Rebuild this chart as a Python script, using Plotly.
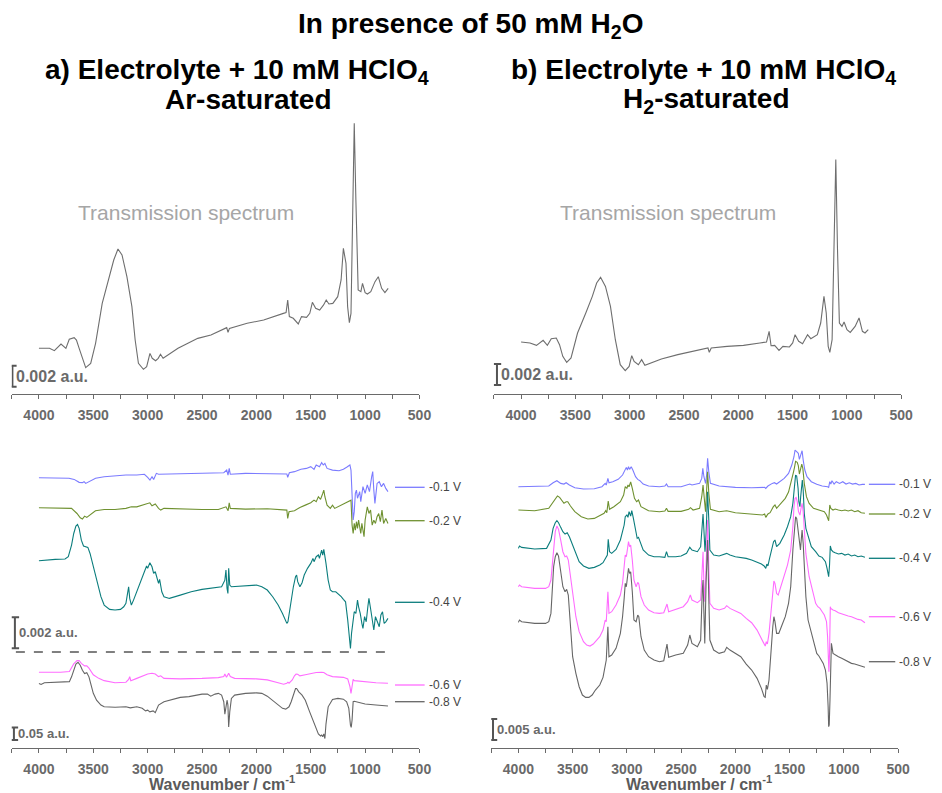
import plotly.graph_objects as go

# ---------------- data (wavenumber cm-1, absorbance) ----------------
# Transmission spectra (values in mAU = 1e-3 a.u.)
trans_ar = [(4000,4.35),(3903,4.35),(3858,4.13),(3797,4.76),(3752,4.35),(3721,5.21),(3676,5.37),(3655,5.14),
            (3630,4.35),(3585,2.92),(3570,2.51),(3524,2.92),(3479,4.83),(3418,8.63),(3358,10.86),(3312,12.76),
            (3273,13.81),(3236,13.24),(3191,11.17),(3145,8.32),(3115,5.14),(3085,2.92),(3039,2.35),(3009,2.60),
            (2979,3.87),(2958,3.40),(2927,3.17),(2903,3.40),(2882,3.78),(2858,3.40),(2721,4.35),(2539,5.30),
            (2418,5.62),(2273,6.32),(2261,5.87),(2248,6.25),(2085,6.73),(1933,7.05),(1752,7.68),(1727,7.75),
            (1712,8.95),(1697,7.37),(1661,7.21),(1615,6.67),(1585,7.37),(1539,7.30),(1509,7.68),(1485,8.73),
            (1455,8.16),(1418,8.00),(1382,8.48),(1358,8.95),(1333,8.57),(1297,8.63),(1252,9.27),(1221,10.86),
            (1200,13.87),(1176,12.44),(1161,8.32),(1145,6.79),(1130,7.68),(1115,15.30),(1100,25.78),(1085,18.48),
            (1064,9.90),(1039,9.75),(1024,10.54),(1000,9.65),(979,9.52),(948,9.75),(909,10.70),(879,11.17),
            (848,10.06),(818,9.65),(788,10.06)]

trans_h2 = [(4000,4.95),(3918,4.86),(3858,4.63),(3797,5.11),(3758,4.63),(3722,5.27),(3676,5.33),(3646,4.70),
            (3616,3.59),(3580,3.02),(3540,3.43),(3480,5.81),(3404,7.71),(3344,9.30),(3304,10.57),(3268,11.11),
            (3223,10.25),(3177,8.35),(3132,5.17),(3087,2.79),(3041,2.22),(3005,2.63),(2981,3.65),(2959,3.11),
            (2920,2.79),(2890,3.27),(2860,2.73),(2708,3.33),(2557,3.75),(2406,4.06),(2279,4.38),(2267,3.97),
            (2249,4.38),(2103,4.54),(1952,4.63),(1801,4.86),(1740,4.95),(1716,5.97),(1698,4.60),(1665,4.63),
            (1625,4.16),(1589,4.54),(1529,4.48),(1499,4.86),(1477,5.65),(1444,5.02),(1408,4.79),(1362,5.65),
            (1332,5.27),(1272,5.65),(1241,6.76),(1211,9.30),(1190,7.71),(1172,4.54),(1157,3.97),(1136,5.17),
            (1117,13.75),(1102,22.32),(1087,14.06),(1069,6.76),(1045,6.44),(1026,6.86),(999,6.13),(969,5.87),
            (924,6.44),(888,7.24),(857,5.97),(833,5.81),(803,6.13)]

# Ar-saturated difference spectra, -0.1/-0.2/-0.4 V (mAU, relative to own baseline)
ar_m01 = [(4000,0),(3903,0),(3724,-0.04),(3676,-0.11),(3630,-0.30),(3600,-0.32),(3585,-0.26),(3570,-0.37),
          (3539,-0.26),(3479,-0.04),(3400,0.06),(3300,0.11),(3200,0.17),(3100,0.17),(3030,0.22),(3000,0.02),
          (2979,-0.15),(2960,0.06),(2945,-0.11),(2920,0.28),(2900,0.22),(2800,0.24),(2600,0.28),(2400,0.28),
          (2300,0.32),(2273,0.49),(2261,0.17),(2250,0.60),(2240,0.22),(2100,0.28),(1900,0.28),(1750,0.28),
          (1720,0.24),(1712,0.02),(1697,0.32),(1650,0.39),(1590,0.54),(1540,0.60),(1500,0.71),(1470,0.54),
          (1450,0.82),(1420,0.71),(1400,0.97),(1385,0.82),(1370,0.92),(1350,0.60),(1300,0.49),(1240,0.45),
          (1200,0.54),(1170,0.67),(1140,0.82),(1130,0.49),(1120,-1.01),(1110,-2.73),(1100,-2.19),(1090,-1.01),
          (1080,-0.80),(1070,-1.33),(1050,-0.90),(1040,-1.55),(1020,-0.58),(1000,-1.01),(980,-0.47),(960,-0.90),
          (940,0.06),(930,0.39),(920,-0.80),(910,-1.66),(890,-0.37),(870,-0.26),(850,-0.58),(830,-0.37),
          (810,-0.69),(790,-0.90)]

ar_m02 = [(4000,0),(3750,0),(3700,-0.04),(3650,-0.37),(3620,-0.65),(3600,-0.73),(3580,-0.54),(3560,-0.62),
          (3530,-0.47),(3480,-0.19),(3400,-0.11),(3300,-0.11),(3200,-0.04),(3150,0.06),(3100,0.06),(3040,0.17),
          (3000,0.28),(2980,0.32),(2960,0.13),(2930,0.24),(2900,-0.04),(2880,-0.15),(2850,-0.04),(2700,-0.09),
          (2500,-0.11),(2350,-0.11),(2280,0.06),(2260,-0.19),(2250,0.32),(2240,-0.04),(2100,-0.09),(1900,-0.06),
          (1750,-0.11),(1720,-0.15),(1712,-0.69),(1700,-0.26),(1650,-0.19),(1600,0.02),(1550,0.17),(1500,0.32),
          (1470,0.49),(1450,0.39),(1430,0.71),(1410,0.54),(1390,0.92),(1380,1.14),(1370,0.71),(1350,0.17),
          (1320,-0.04),(1300,0.17),(1280,-0.04),(1250,0.06),(1200,0.24),(1150,0.39),(1130,0.49),(1120,-1.12),
          (1110,-1.66),(1100,-1.01),(1090,-1.44),(1080,-0.90),(1070,-1.33),(1060,-0.80),(1040,-1.66),(1030,-1.01),
          (1010,-1.87),(1000,-0.80),(990,-0.26),(980,0.06),(965,-0.37),(950,-0.15),(935,-1.12),(920,-0.80),
          (905,-1.01),(890,-0.58),(875,-0.37),(860,-0.90),(845,-0.15),(830,-1.01),(810,-0.69),(790,-1.01)]

ar_m04 = [(4000,0),(3950,0.04),(3850,0.09),(3760,0.11),(3730,0.26),(3700,1.01),(3680,1.76),(3660,2.24),
          (3645,2.34),(3630,2.09),(3610,1.33),(3590,0.95),(3570,0.90),(3550,0.86),(3530,0.47),(3500,-0.39),
          (3470,-1.25),(3430,-2.32),(3400,-2.86),(3350,-3.14),(3300,-3.18),(3250,-3.14),(3220,-2.97),(3200,-2.75),
          (3185,-2.11),(3175,-1.68),(3165,-2.43),(3150,-2.86),(3130,-2.54),(3100,-2.00),(3060,-1.25),(3030,-0.65),
          (3010,-0.34),(3000,-0.49),(2980,-0.13),(2960,-0.39),(2945,-0.82),(2930,-0.71),(2915,-1.14),(2900,-1.46),
          (2890,-1.20),(2870,-2.00),(2850,-2.32),(2800,-2.43),(2700,-2.22),(2600,-2.00),(2500,-1.85),(2400,-1.78),
          (2320,-1.68),(2290,-1.25),(2280,-0.60),(2270,-1.78),(2262,-2.11),(2255,-0.49),(2245,-1.57),(2230,-1.68),
          (2100,-1.61),(2000,-1.57),(1950,-1.68),(1900,-1.89),(1850,-2.32),(1800,-2.86),(1760,-3.40),(1730,-3.94),
          (1720,-4.04),(1710,-3.94),(1690,-2.97),(1660,-1.68),(1640,-1.03),(1630,-0.92),(1620,-1.35),(1600,-1.68),
          (1580,-1.42),(1560,-0.92),(1530,-0.49),(1500,-0.17),(1480,0.15),(1470,-0.06),(1450,0.26),(1430,0.37),
          (1420,0.15),(1400,0.69),(1390,0.37),(1380,0.73),(1360,-0.17),(1340,-1.25),(1320,-1.89),(1300,-2.00),
          (1270,-2.00),(1250,-2.11),(1220,-2.32),(1200,-2.49),(1180,-2.65),(1160,-3.83),(1145,-4.90),(1135,-5.66),
          (1125,-4.69),(1110,-3.61),(1100,-3.29),(1085,-3.40),(1070,-2.54),(1060,-2.97),(1045,-3.40),(1030,-4.04),
          (1020,-4.37),(1005,-3.61),(990,-3.94),(975,-2.97),(965,-2.43),(950,-3.08),(935,-3.83),(920,-4.47),
          (905,-3.61),(890,-3.94),(870,-4.26),(855,-3.50),(840,-3.29),(825,-4.04),(810,-3.94),(790,-3.72)]

# Ar-saturated, -0.6/-0.8 V (a.u., relative to own baseline)
ar_m06 = [(4000,0),(3800,0),(3720,0.003),(3700,0.016),(3680,0.033),(3650,0.046),(3630,0.046),(3610,0.035),
          (3580,0.025),(3560,0.025),(3540,0.016),(3500,-0.010),(3450,-0.024),(3400,-0.033),(3300,-0.041),
          (3200,-0.039),(3175,-0.028),(3165,-0.017),(3155,-0.033),(3100,-0.024),(3050,-0.014),(3000,-0.007),
          (2960,-0.004),(2930,-0.007),(2900,-0.017),(2880,-0.014),(2850,-0.024),(2700,-0.026),(2500,-0.024),
          (2350,-0.021),(2300,-0.017),(2290,-0.007),(2275,-0.020),(2255,-0.004),(2240,-0.017),(2200,-0.024),
          (2000,-0.026),(1900,-0.030),(1800,-0.041),(1750,-0.047),(1720,-0.043),(1710,-0.039),(1700,-0.043),
          (1670,-0.030),(1650,-0.014),(1635,-0.007),(1620,-0.008),(1600,-0.014),(1550,-0.010),(1500,-0.004),
          (1450,-0.001),(1400,0),(1380,-0.001),(1350,-0.010),(1300,-0.017),(1200,-0.020),(1160,-0.026),
          (1140,-0.056),(1130,-0.083),(1120,-0.056),(1110,-0.028),(1100,-0.033),(1000,-0.038),(900,-0.041),
          (790,-0.043)]

ar_m08 = [(4000,0),(3980,-0.004),(3950,0.003),(3800,0.004),(3720,0.007),(3700,0.026),(3680,0.052),(3660,0.076),
          (3640,0.083),(3620,0.072),(3600,0.052),(3580,0.039),(3560,0.042),(3540,0.026),(3520,-0.007),
          (3500,-0.039),(3470,-0.066),(3430,-0.085),(3400,-0.092),(3300,-0.094),(3200,-0.092),(3160,-0.096),
          (3100,-0.092),(3050,-0.098),(3020,-0.108),(3000,-0.105),(2980,-0.112),(2950,-0.108),(2930,-0.115),
          (2920,-0.105),(2900,-0.085),(2850,-0.072),(2800,-0.066),(2700,-0.055),(2620,-0.052),(2600,-0.050),
          (2500,-0.042),(2450,-0.042),(2420,-0.050),(2380,-0.042),(2350,-0.039),(2320,-0.046),(2300,-0.072),
          (2290,-0.121),(2280,-0.092),(2270,-0.066),(2262,-0.085),(2255,-0.171),(2245,-0.112),(2230,-0.059),
          (2200,-0.046),(2100,-0.039),(2000,-0.037),(1950,-0.039),(1900,-0.050),(1850,-0.066),(1800,-0.085),
          (1760,-0.098),(1730,-0.101),(1700,-0.092),(1680,-0.072),(1660,-0.046),(1640,-0.020),(1630,-0.020),
          (1610,-0.033),(1580,-0.046),(1550,-0.066),(1510,-0.112),(1480,-0.144),(1450,-0.173),(1430,-0.199),
          (1410,-0.207),(1400,-0.203),(1390,-0.210),(1380,-0.199),(1370,-0.217),(1360,-0.160),(1340,-0.092),
          (1300,-0.063),(1250,-0.059),(1200,-0.062),(1170,-0.072),(1150,-0.098),(1135,-0.164),(1128,-0.173),
          (1120,-0.144),(1110,-0.072),(1100,-0.070),(1050,-0.076),(1000,-0.081),(900,-0.085),(790,-0.089)]

# H2-saturated difference spectra (mAU, relative to own baseline)
h2_m01 = [(4000,0),(3850,0),(3720,0.16),(3680,0.95),(3645,1.43),(3610,0.79),(3580,0.63),(3560,0.95),(3530,0.40),
          (3480,-0.24),(3400,-0.56),(3300,-0.48),(3230,0),(3200,0.79),(3190,0.40),(3175,1.98),(3165,0.95),
          (3130,1.19),(3080,1.75),(3040,2.78),(3020,3.97),(3005,4.60),(2995,3.97),(2985,4.76),(2975,4.13),
          (2960,4.76),(2945,3.97),(2920,2.38),(2900,1.75),(2880,1.43),(2850,0.63),(2800,0.16),(2700,0),
          (2650,0.16),(2635,0.63),(2620,0),(2500,0),(2420,0.63),(2400,0.40),(2330,0.79),(2310,1.98),(2300,4.37),
          (2290,2.38),(2275,0.79),(2265,2.78),(2256,6.75),(2245,3.57),(2230,0.79),(2150,0.16),(2000,-0.16),
          (1850,-0.24),(1760,-0.24),(1730,-0.16),(1720,-0.40),(1700,0.16),(1660,0.79),(1640,0.95),(1620,0.63),
          (1590,1.19),(1550,1.98),(1510,3.17),(1480,5.16),(1460,7.14),(1450,8.73),(1435,8.33),(1420,7.94),
          (1410,6.51),(1400,7.54),(1385,8.57),(1375,6.35),(1360,3.97),(1340,2.38),(1300,1.19),(1250,0.56),
          (1200,0.16),(1150,0),(1140,-0.16),(1130,1.19),(1120,0.63),(1110,1.43),(1090,0.63),(1070,1.19),
          (1040,0.79),(1010,1.19),(980,0.63),(950,0.95),(920,0.63),(890,0.79),(860,0.40),(830,0.56),(806,0.56)]

h2_m02 = [(4000,0.16),(3850,0),(3720,0.56),(3690,1.75),(3660,2.94),(3640,3.49),(3620,3.17),(3600,2.38),
          (3580,1.75),(3560,2.14),(3545,2.14),(3520,1.11),(3480,-0.24),(3420,-1.43),(3360,-1.98),(3300,-1.83),
          (3250,-1.27),(3210,-0.63),(3195,0),(3185,-0.48),(3172,2.30),(3160,0.32),(3120,0.95),(3060,2.14),
          (3030,3.73),(3015,5.71),(3000,5.32),(2990,6.11),(2980,5.71),(2965,6.83),(2950,5.32),(2930,2.94),
          (2910,2.14),(2893,2.54),(2870,0.95),(2800,0),(2700,-0.24),(2650,-0.08),(2635,0.56),(2620,-0.16),
          (2500,-0.16),(2430,0.32),(2414,0.71),(2390,0.16),(2330,0.56),(2310,3.33),(2298,6.11),(2285,2.14),
          (2275,-0.24),(2265,4.92),(2256,9.29),(2245,4.13),(2230,0.32),(2150,-0.24),(2080,0),(2000,-0.48),
          (1850,-0.79),(1750,-1.03),(1730,-0.79),(1720,-1.59),(1700,-0.79),(1680,-0.48),(1650,0.95),(1635,1.35),
          (1620,0.56),(1580,1.75),(1540,2.94),(1510,4.44),(1480,7.22),(1465,9.13),(1455,10.32),(1445,11.75),
          (1430,11.51),(1420,10.71),(1410,8.73),(1400,9.76),(1388,11.11),(1378,10.08),(1365,6.51),(1345,3.33),
          (1320,1.75),(1280,0.56),(1220,0.16),(1180,-0.24),(1160,-1.03),(1145,-2.22),(1140,-2.38),(1130,1.35),
          (1120,0.56),(1100,0.16),(1080,0.40),(1050,0.16),(1020,0),(990,0.16),(960,-0.08),(930,0.16),
          (900,-0.24),(870,0),(840,-0.48),(806,-0.63)]

h2_m04 = [(4000,-0.24),(3990,0.32),(3970,0),(3850,-0.40),(3740,-0.24),(3700,1.75),(3680,4.52),(3660,5.87),
          (3645,6.35),(3630,5.87),(3610,4.76),(3590,3.73),(3570,3.17),(3550,3.49),(3530,2.54),(3500,0.56),
          (3470,-1.83),(3440,-3.41),(3400,-4.44),(3350,-5.00),(3300,-4.76),(3250,-4.21),(3220,-3.65),(3200,-2.62),
          (3190,-2.06),(3180,-1.83),(3172,1.90),(3160,-1.03),(3140,-1.43),(3100,-0.48),(3060,1.75),(3040,3.73),
          (3025,5.32),(3015,7.30),(3000,7.70),(2990,7.14),(2980,8.49),(2965,7.46),(2955,8.73),(2940,6.90),
          (2920,4.13),(2905,2.14),(2893,2.38),(2880,1.35),(2850,-0.63),(2800,-1.83),(2750,-2.22),(2700,-2.22),
          (2650,-2.38),(2635,-1.03),(2620,-2.22),(2550,-2.22),(2500,-2.06),(2450,-1.43),(2420,0),(2400,-0.63),
          (2350,-1.03),(2320,0.16),(2305,5.71),(2298,7.94),(2290,4.13),(2280,-1.03),(2270,3.33),(2256,13.25),
          (2245,6.51),(2235,-0.63),(2200,-1.83),(2150,-2.06),(2080,-1.43),(2050,-1.83),(2000,-2.22),(1900,-2.62),
          (1850,-3.02),(1800,-3.57),(1760,-3.97),(1735,-4.44),(1720,-5.00),(1710,-3.97),(1700,-4.44),(1685,-2.62),
          (1660,-0.24),(1648,1.35),(1635,1.75),(1620,0.16),(1590,0.95),(1550,2.94),(1520,4.92),(1490,7.30),
          (1470,10.48),(1455,16.03),(1445,17.22),(1435,16.98),(1422,14.05),(1415,10.87),(1405,9.68),(1398,12.06),
          (1390,15.63),(1383,16.03),(1375,13.65),(1365,8.10),(1350,4.52),(1330,2.54),(1300,0.16),(1260,-1.03),
          (1230,-2.06),(1200,-2.38),(1170,-3.41),(1155,-5.00),(1145,-6.59),(1140,-6.98),(1132,-4.21),(1125,0.32),
          (1115,-0.63),(1100,-1.03),(1080,-1.27),(1050,-1.59),(1020,-1.43),(990,-1.83),(960,-1.59),(930,-2.06),
          (900,-1.83),(870,-2.22),(840,-2.06),(806,-2.38)]

h2_m06 = [(4000,-0.16),(3990,0.24),(3970,-0.16),(3850,-0.56),(3750,-0.56),(3720,-0.16),(3700,1.43),(3690,4.60),
          (3675,9.37),(3660,12.94),(3645,14.29),(3630,13.49),(3610,10.95),(3590,8.17),(3570,6.98),(3555,7.14),
          (3540,6.19),(3520,2.22),(3500,-2.54),(3470,-7.30),(3440,-10.87),(3400,-13.25),(3370,-14.05),
          (3340,-14.29),(3310,-13.81),(3280,-12.86),(3250,-12.06),(3220,-10.48),(3200,-8.10),(3190,-8.49),
          (3175,-1.35),(3165,-6.51),(3140,-6.11),(3100,-4.52),(3060,-2.14),(3040,0.63),(3025,4.60),(3015,7.38),
          (3005,6.98),(2995,8.57),(2985,10.56),(2975,9.37),(2965,9.76),(2950,6.19),(2935,1.43),(2915,-0.16),
          (2900,0.87),(2890,0.48),(2870,-2.54),(2840,-4.52),(2800,-5.71),(2750,-6.35),(2700,-6.51),(2660,-6.35),
          (2640,-4.92),(2630,-4.29),(2615,-6.11),(2550,-5.56),(2480,-4.92),(2440,-3.73),(2415,-2.14),(2400,-3.33),
          (2350,-3.97),(2320,-3.33),(2305,3.02),(2298,8.17),(2290,0.63),(2282,-3.73),(2270,4.60),(2256,15.71),
          (2245,4.60),(2235,-4.13),(2200,-5.32),(2150,-5.71),(2100,-5.32),(2080,-4.68),(2050,-5.32),(2000,-5.87),
          (1950,-6.51),(1900,-7.70),(1850,-8.73),(1800,-10.48),(1760,-12.46),(1735,-13.81),(1725,-14.29),
          (1715,-13.25),(1705,-13.81),(1690,-11.27),(1670,-4.92),(1655,-0.16),(1645,1.19),(1635,0.63),
          (1620,-1.75),(1605,-2.14),(1580,-0.16),(1550,2.62),(1520,5.00),(1490,8.57),(1470,14.13),(1460,18.89),
          (1450,20.87),(1440,21.10),(1430,20.08),(1418,17.70),(1405,16.90),(1395,18.50),(1385,19.68),(1375,17.70),
          (1365,12.50),(1350,7.70),(1320,2.22),(1290,-0.95),(1260,-4.13),(1240,-4.92),(1220,-5.32),(1200,-6.11),
          (1180,-6.90),(1160,-8.49),(1150,-12.06),(1142,-17.62),(1138,-20.40),(1132,-16.03),(1125,-4.92),
          (1120,-5.32),(1100,-5.71),(1080,-5.87),(1050,-6.35),(1020,-6.67),(990,-6.90),(960,-7.14),(930,-7.30),
          (900,-7.70),(870,-7.94),(840,-8.10),(806,-8.73)]

h2_m08 = [(4000,-0.16),(3990,0.40),(3970,0),(3850,-0.40),(3750,-0.40),(3720,0),(3700,1.98),(3690,6.75),
          (3675,13.10),(3660,15.48),(3645,16.43),(3630,15.63),(3610,12.30),(3590,8.33),(3570,7.14),(3555,7.70),
          (3540,6.35),(3520,-1.19),(3500,-8.33),(3470,-12.30),(3440,-15.48),(3410,-17.46),(3380,-18.02),
          (3350,-18.02),(3320,-17.46),(3290,-16.27),(3250,-15.08),(3220,-13.25),(3200,-9.92),(3190,-9.13),
          (3175,-1.19),(3165,-8.33),(3140,-7.94),(3100,-6.35),(3060,-2.78),(3040,1.19),(3025,5.56),(3015,9.13),
          (3005,8.33),(2995,10.32),(2985,12.70),(2975,11.51),(2965,11.90),(2950,7.14),(2935,0.40),(2915,0),
          (2900,1.59),(2890,1.19),(2870,-3.57),(2840,-6.75),(2800,-8.33),(2750,-9.13),(2700,-9.52),(2660,-9.29),
          (2640,-6.75),(2630,-5.32),(2615,-8.49),(2550,-7.94),(2480,-7.54),(2440,-5.56),(2420,-3.17),(2400,-5.16),
          (2350,-5.95),(2320,-4.37),(2305,7.54),(2298,9.92),(2290,1.98),(2282,-5.16),(2270,9.13),(2256,19.44),
          (2245,5.56),(2235,-4.37),(2200,-6.75),(2150,-7.54),(2100,-7.14),(2080,-6.11),(2050,-6.75),(2000,-7.54),
          (1950,-8.33),(1900,-10.08),(1850,-11.51),(1800,-13.49),(1760,-15.87),(1735,-17.86),(1725,-18.02),
          (1715,-15.08),(1705,-16.11),(1690,-13.89),(1670,-5.95),(1655,-1.19),(1645,1.19),(1635,0),(1620,-2.78),
          (1600,-2.78),(1570,-0.79),(1540,1.19),(1510,4.37),(1490,8.33),(1470,17.06),(1455,22.62),(1445,25.00),
          (1435,24.60),(1420,21.83),(1410,19.84),(1400,17.06),(1393,19.44),(1385,21.83),(1375,18.65),(1365,13.10),
          (1350,5.95),(1330,0.40),(1300,-2.78),(1270,-5.32),(1250,-7.54),(1230,-8.17),(1210,-9.13),(1190,-9.92),
          (1170,-11.51),(1155,-14.68),(1145,-20.24),(1140,-25.00),(1135,-24.60),(1128,-18.65),(1120,-5.95),
          (1115,-5.16),(1100,-7.54),(1080,-7.94),(1050,-8.33),(1020,-8.73),(990,-9.13),(960,-9.52),(930,-9.92),
          (900,-10.08),(870,-10.32),(840,-10.56),(806,-10.87)]

potentials = ["-0.1 V", "-0.2 V", "-0.4 V", "-0.6 V", "-0.8 V"]
tick_major = [4000, 3500, 3000, 2500, 2000, 1500, 1000, 500]
tick_minor = [4250, 3750, 3250, 2750, 2250, 1750, 1250, 750]

# stacking offsets (same units as each panel's axis)
off_ar_upper = [11.12, 9.18, 5.76]          # mAU
off_ar_lower = [0.297, 0.253]               # a.u.
off_h2 = [62.14, 56.43, 47.70, 38.49, 30.0] # mAU

# scale-bar magnitudes in axis units
bar_top = 2.0        # 0.002 a.u. in mAU
bar_ar_upper = 2.0   # 0.002 a.u. in mAU
bar_ar_lower = 0.05  # a.u.
bar_h2 = 5.0         # 0.005 a.u. in mAU

# ---------------- styling ----------------
W, H = 942, 793
PAGE_OFF = 8          # default body margin of the html page
FONT = "Liberation Sans, Arial, sans-serif"
AX = "#6a6a6a"
C_TRANS = "#6e6e6e"
COLORS = ["#7b7bff", "#6f9130", "#0b7d7d", "#ff6cff", "#666666"]

def fx(p):
    return (p - PAGE_OFF) / W

def fy(p):
    return 1 - (p - PAGE_OFF) / H

fig = go.Figure()

def add(data, xa, ya, color, offset=0.0, width=1.1):
    fig.add_trace(go.Scatter(
        x=[p[0] for p in data], y=[p[1] + offset for p in data],
        mode="lines", line=dict(color=color, width=width),
        xaxis=xa, yaxis=ya, showlegend=False, hoverinfo="skip"))

def scalebar(xa, ya, xpos, y0, size, label, fsize):
    fig.add_trace(go.Scatter(
        x=[xpos, xpos], y=[y0, y0 + size], mode="lines+markers",
        line=dict(color="#555555", width=2),
        marker=dict(symbol="line-ew", size=6, line=dict(width=2, color="#555555")),
        xaxis=xa, yaxis=ya, showlegend=False, hoverinfo="skip"))
    fig.add_annotation(x=xpos, y=y0 + size / 2, xref=xa, yref=ya, text=label,
                       showarrow=False, xanchor="left", yanchor="middle", xshift=2,
                       font=dict(family=FONT, size=fsize, color="#6a6a6a", weight="bold"))

# top panels
add(trans_ar, "x", "y", C_TRANS)
add(trans_h2, "x2", "y2", C_TRANS)
# bottom-left
add(ar_m01, "x3", "y5", COLORS[0], off_ar_upper[0])
add(ar_m02, "x3", "y5", COLORS[1], off_ar_upper[1])
add(ar_m04, "x3", "y5", COLORS[2], off_ar_upper[2])
add(ar_m06, "x3", "y3", COLORS[3], off_ar_lower[0])
add(ar_m08, "x3", "y3", COLORS[4], off_ar_lower[1])
# bottom-right
for d, c, o in zip([h2_m01, h2_m02, h2_m04, h2_m06, h2_m08], COLORS, off_h2):
    add(d, "x4", "y4", c, o)

scalebar("x", "y", 4244, 0.7, bar_top, "0.002 a.u.", 16)
scalebar("x2", "y2", 4222, 0.86, bar_top, "0.002 a.u.", 16)
scalebar("x3", "y5", 4221, 0.11, bar_ar_upper, "0.002 a.u.", 13)
scalebar("x3", "y3", 4230, 0.030, bar_ar_lower, "0.05 a.u.", 13)
scalebar("x4", "y4", 4234, 1.83, bar_h2, "0.005 a.u.", 13)

xcommon = dict(
    range=[4250, 500], tickmode="array", tickvals=tick_major,
    ticktext=[str(t) for t in tick_major], ticks="outside", ticklen=4, tickwidth=1,
    tickcolor=AX, showline=True, linecolor=AX, linewidth=1.3, showgrid=False,
    zeroline=False, fixedrange=True, ticklabelstandoff=4,
    tickfont=dict(family=FONT, size=14, color=AX, weight="bold"),
    minor=dict(tickvals=tick_minor, ticks="outside", ticklen=4, tickwidth=1, tickcolor=AX, showgrid=False),
)
ycommon = dict(visible=False, fixedrange=True, showgrid=False, zeroline=False)

left_dom = [fx(11.8), fx(424.8)]
tr_dom = [fx(500.2), fx(912.7)]
br_dom = [fx(497.5), fx(909.6)]

fig.update_layout(
    width=W, height=H, margin=dict(l=0, r=0, t=0, b=0),
    paper_bgcolor="white", plot_bgcolor="rgba(0,0,0,0)", showlegend=False,
    xaxis=dict(domain=left_dom, anchor="y", **xcommon),
    yaxis=dict(domain=[fy(394), fy(115)], range=[0, 26.57], anchor="x", **ycommon),
    xaxis2=dict(domain=tr_dom, anchor="y2", **xcommon),
    yaxis2=dict(domain=[fy(394), fy(115)], range=[0, 26.57], anchor="x2", **ycommon),
    xaxis3=dict(domain=left_dom, anchor="y3", **xcommon),
    yaxis3=dict(domain=[fy(747.7), fy(655)], range=[0, 0.365], anchor="x3", **ycommon),
    yaxis5=dict(domain=[fy(650), fy(445)], range=[0, 13.23], anchor="x3", **ycommon),
    xaxis4=dict(domain=br_dom, anchor="y4", **xcommon),
    yaxis4=dict(domain=[fy(747.7), fy(440)], range=[0, 73.26], anchor="x4", **ycommon),
)

# dashed separator in panel a
fig.add_shape(type="line", xref="x3", yref="paper", x0=4212, x1=785, y0=fy(652), y1=fy(652),
              line=dict(color="black", width=1, dash="dash"))

# titles
def title(text, xp, yp, size):
    fig.add_annotation(x=fx(xp), y=fy(yp), xref="paper", yref="paper", text=text, showarrow=False,
                       xanchor="center", yanchor="middle",
                       font=dict(family=FONT, size=size, color="black", weight="bold"))

title("In presence of 50 mM H<sub>2</sub>O", 476, 25, 28)
title("a) Electrolyte + 10 mM HClO<sub>4</sub>", 240, 71, 28)
title("Ar-saturated", 251.5, 100, 28)
title("b) Electrolyte + 10 mM HClO<sub>4</sub>", 712, 71, 28)
title("H<sub>2</sub>-saturated", 716, 101, 28)

# "Transmission spectrum"
for xa, ya in [("x", "y"), ("x2", "y2")]:
    fig.add_annotation(x=3657, y=17.29, xref=xa, yref=ya, text="Transmission spectrum", showarrow=False,
                       xanchor="left", yanchor="middle",
                       font=dict(family=FONT, size=21, color="#a6a6a6"))

# axis titles
for xp in (225, 708):
    fig.add_annotation(x=fx(xp), y=fy(782.5), xref="paper", yref="paper",
                       text="Wavenumber / cm<sup>-1</sup>", showarrow=False,
                       xanchor="center", yanchor="middle",
                       font=dict(family=FONT, size=16, color="#5a5a5a", weight="bold"))

# potential labels with line keys
def key(x0, x1, yp, color, label):
    fig.add_shape(type="line", xref="paper", yref="paper", x0=fx(x0), x1=fx(x1), y0=fy(yp), y1=fy(yp),
                  line=dict(color=color, width=1.3))
    fig.add_annotation(x=fx(x1 + 2), y=fy(yp), xref="paper", yref="paper", text=label, showarrow=False,
                       xanchor="left", yanchor="middle", font=dict(family=FONT, size=12, color="#444444"))

for yp, c, lab in zip([487.3, 520.7, 602.3, 685, 701.7], COLORS, potentials):
    key(400, 430, yp, c, lab)
for yp, c, lab in zip([484.3, 514, 558.3, 616.7, 661.7], COLORS, potentials):
    key(880, 906.7, yp, c, lab)

fig.write_html("out.html", config={"displayModeBar": False})
